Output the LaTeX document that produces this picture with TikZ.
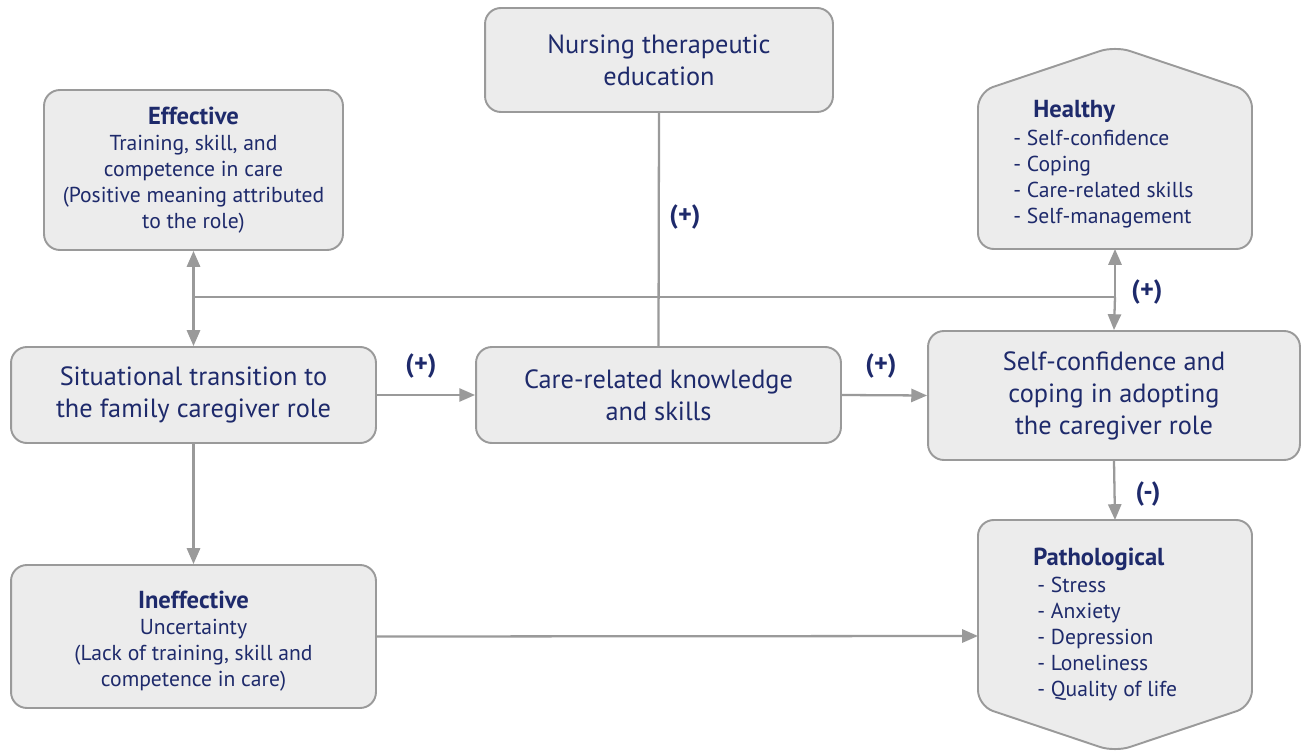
\documentclass[tikz,border=0pt]{standalone}
\usepackage{fontspec}
\setmainfont{PT Sans}
\usetikzlibrary{arrows.meta}
\definecolor{boxfill}{HTML}{ECECEC}
\definecolor{boxline}{HTML}{9A9A9A}
\definecolor{navy}{HTML}{1E2A6B}
\tikzstyle{carebox} = [draw=boxline, fill=boxfill, line width=1.1pt, rectangle, rounded corners=9pt, text=navy, align=center, inner sep=0pt]
\tikzstyle{bigtext} = [font=\fontsize{15}{18.2}\selectfont]
\tikzstyle{smalltext} = [text=navy, font=\fontsize{12.3}{14.8}\selectfont]
\tikzstyle{headtext} = [text=navy, font=\fontsize{14}{14.8}\selectfont\bfseries, inner sep=0pt]
\tikzstyle{link} = [draw=boxline, line width=1.3pt, -{Triangle[length=9pt,width=7.5pt]}]
\tikzstyle{plainlink} = [draw=boxline, line width=1.3pt]
\tikzstyle{sign} = [text=navy, font=\fontsize{15}{17}\selectfont\bfseries]
\newcommand{\headline}[1]{{\fontsize{14}{14.8}\selectfont\bfseries #1}}

\begin{document}
\begin{tikzpicture}[x=0.02cm, y=-0.02cm]
\useasboundingbox (0,0) rectangle (1302,753);

% boxes
\node[carebox, bigtext, minimum width=6.96cm, minimum height=2.08cm] (nurse) at (659,60)
    {Nursing therapeutic\\education};
\node[carebox, smalltext, minimum width=5.98cm, minimum height=3.2cm] (effective) at (193.5,170)
    {\headline{Effective}\\Training, skill, and\\competence in care\\(Positive meaning attributed\\to the role)};
\node[carebox, bigtext, minimum width=7.3cm, minimum height=1.92cm] (situ) at (193.5,395)
    {Situational transition to\\the family caregiver role};
\node[carebox, bigtext, minimum width=7.3cm, minimum height=1.92cm] (know) at (658.5,395)
    {Care-related knowledge\\and skills};
\node[carebox, bigtext, minimum width=7.44cm, minimum height=2.58cm] (conf) at (1114,395.5)
    {Self-confidence and\\coping in adopting\\the caregiver role};
\node[carebox, smalltext, minimum width=7.3cm, minimum height=2.86cm] (ineff) at (193.5,636.5)
    {\rule{0pt}{15pt}\headline{Ineffective}\\Uncertainty\\(Lack of training, skill and\\competence in care)};

% healthy and pathological shapes
\draw[draw=boxline, fill=boxfill, line width=1.1pt, rounded corners=9pt]
    (978,249) -- (978,92) -- (1115,46) -- (1252,92) -- (1252,249) -- cycle;
\draw[draw=boxline, fill=boxfill, line width=1.1pt, rounded corners=9pt]
    (978,706) -- (978,520) -- (1252,520) -- (1252,706) -- (1115,752) -- cycle;
\coordinate (healthy) at (1115,249);
\coordinate (patho) at (1115,520);
\coordinate (patholeft) at (978,636);

\node[headtext, anchor=west] (healthytitle) at (1033,111) {Healthy};
\node[smalltext, align=left, anchor=north west, inner sep=0pt] (healthylist) at (1013,130)
    {- Self-confidence\\- Coping\\- Care-related skills\\- Self-management};
\node[headtext, anchor=west] (pathotitle) at (1033,559) {Pathological};
\node[smalltext, align=left, anchor=north west, inner sep=0pt] (patholist) at (1037,577)
    {- Stress\\- Anxiety\\- Depression\\- Loneliness\\- Quality of life};

% connectors
\coordinate (jleft) at (193.5,297);
\coordinate (jright) at (1115,297);
\draw[plainlink] (nurse.south) -- (know.north);
\draw[plainlink] (jleft) -- (jright);
\draw[link] (jleft) -- (effective.south);
\draw[link] (jleft) -- (situ.north);
\draw[link] (jright) -- (healthy);
\draw[link] (jright) -- (conf.north);
\draw[link] (situ.east) -- (know.west);
\draw[link] (know.east) -- (conf.west);
\draw[link] (conf.south) -- (patho);
\draw[link] (situ.south) -- (ineff.north);
\draw[link] (ineff.east) -- (patholeft);

% signs
\node[sign] (s1) at (685,217) {(+)};
\node[sign] (s2) at (421,366) {(+)};
\node[sign] (s3) at (881,366) {(+)};
\node[sign] (s4) at (1147,292) {(+)};
\node[sign] (s5) at (1148,494) {(-)};
\end{tikzpicture}
\end{document}
